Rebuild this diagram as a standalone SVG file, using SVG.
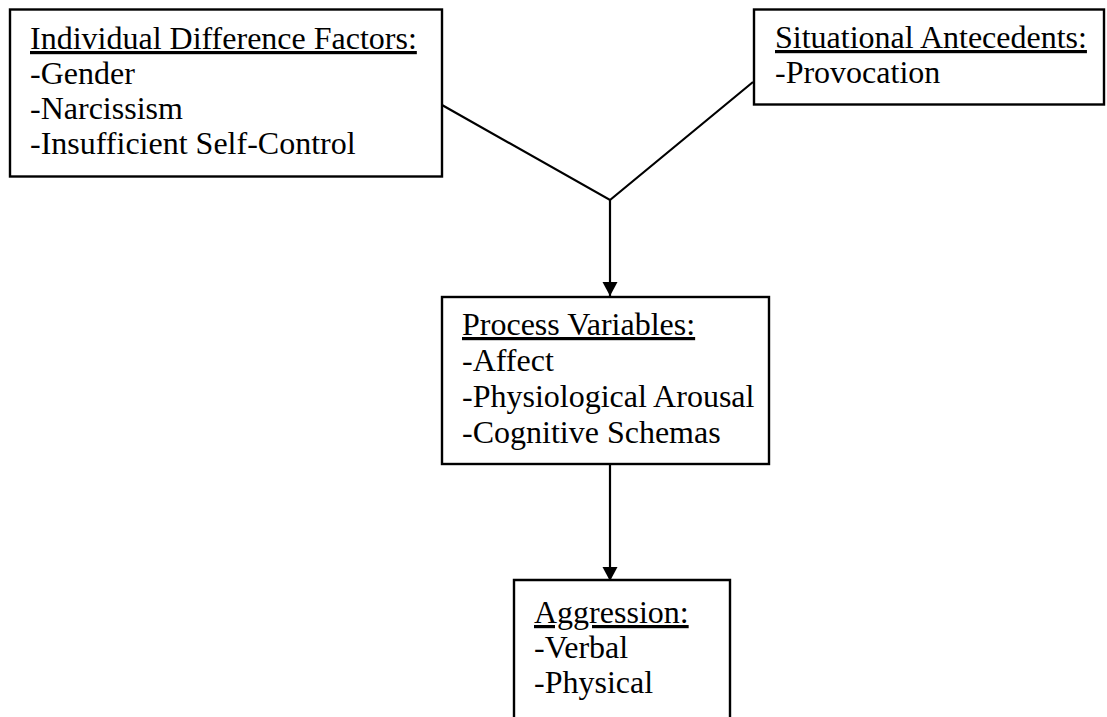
<svg xmlns="http://www.w3.org/2000/svg" width="1107" height="717" viewBox="0 0 1107 717">
<style>
.box{fill:#fff;stroke:#000;stroke-width:2.4}
.t{font-family:"Liberation Serif","Times New Roman",serif;font-size:32px;fill:#000}
.u{text-decoration:underline}
.c{stroke:#000;stroke-width:2.2;fill:none}
</style>
<defs>
<marker id="ah" markerUnits="userSpaceOnUse" markerWidth="16" markerHeight="16" refX="14" refY="7.5" orient="auto">
<path d="M0,0 L14,7.5 L0,15 Z" fill="#000"/>
</marker>
</defs>
<rect width="1107" height="717" fill="#fff"/>
<g id="connectors">
<path class="c" d="M442,105 L610,200 L753,82"/>
<path class="c" d="M610,200 L610,296" marker-end="url(#ah)"/>
<path class="c" d="M610,464 L610,581" marker-end="url(#ah)"/>
</g>
<g id="individual">
<rect class="box" x="10" y="9.5" width="432" height="167"/>
<text class="t" x="30" y="49"><tspan class="u">Individual Difference Factors:</tspan></text>
<text class="t" x="30" y="84">-Gender</text>
<text class="t" x="30" y="119">-Narcissism</text>
<text class="t" x="30" y="154">-Insufficient Self-Control</text>
</g>
<g id="situational">
<rect class="box" x="754" y="9.5" width="350" height="95"/>
<text class="t" x="775" y="48"><tspan class="u">Situational Antecedents:</tspan></text>
<text class="t" x="775" y="83">-Provocation</text>
</g>
<g id="process">
<rect class="box" x="442" y="297" width="327" height="167"/>
<text class="t" x="462" y="335"><tspan class="u">Process Variables:</tspan></text>
<text class="t" x="462" y="371">-Affect</text>
<text class="t" x="462" y="407">-Physiological Arousal</text>
<text class="t" x="462" y="443">-Cognitive Schemas</text>
</g>
<g id="aggression">
<path class="box" d="M514,720 L514,580 L730,580 L730,720"/>
<text class="t" x="534" y="623"><tspan class="u">Aggression:</tspan></text>
<text class="t" x="534" y="658">-Verbal</text>
<text class="t" x="534" y="693">-Physical</text>
</g>
</svg>
